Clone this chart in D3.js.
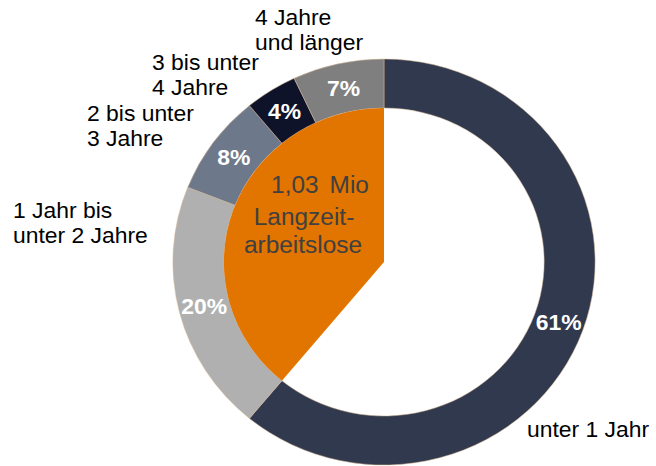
<!DOCTYPE html>
<html>
<head>
<meta charset="utf-8">
<script src="https://cdn.jsdelivr.net/npm/d3@7"></script>
<style>
  body { margin:0; background:#fff; }
  svg { display:block; font-family:"Liberation Sans", Arial, sans-serif; }
</style>
</head>
<body>
<div id="plot"></div>
<script>
// data
var categories = ['unter 1 Jahr', '1 Jahr bis unter 2 Jahre', '2 bis unter 3 Jahre', '3 bis unter 4 Jahre', '4 Jahre und länger'];
var shares = [61, 20, 8, 4, 7];
var colors = ['#30394e', '#b0b0b0', '#6e788b', '#0e1329', '#7f7f7f'];
var labelLines = [['unter 1 Jahr'], ['1 Jahr bis', 'unter 2 Jahre'], ['2 bis unter', '3 Jahre'], ['3 bis unter', '4 Jahre'], ['4 Jahre', 'und länger']];
var centerLines = ['1,03 Mio', 'Langzeit-', 'arbeitslose'];

// layout for the outside labels (left x, first baseline)
var labelPos = [[527, 437], [13, 218], [87, 121], [152, 70], [255, 25]];
var centerPos = [[320, 193], [304, 225], [303, 253]];

var W = 656, H = 466;
var cx = 384, cy = 262, sx = 1.04;
var rOut = 203, rIn = 154;

var svg = d3.select('#plot').append('svg')
  .attr('width', W).attr('height', H);

var pie = d3.pie().sort(null).value(function(d){ return d; });
var arcs = pie(shares);

var ring = d3.arc().innerRadius(rIn).outerRadius(rOut);
var full = d3.arc().innerRadius(0).outerRadius(rIn);

var g = svg.append('g')
  .attr('transform', 'translate(' + cx + ',' + cy + ') scale(' + sx + ',1)');

g.selectAll('path.slice')
  .data(arcs)
  .enter().append('path')
  .attr('class', 'slice')
  .attr('d', ring)
  .attr('fill', function(d, i){ return colors[i]; })
  .attr('stroke', '#d8b894')
  .attr('stroke-width', 0.5);

// orange wedge: all long-term groups (everything after the first slice)
g.append('path')
  .attr('d', full({startAngle: arcs[1].startAngle, endAngle: arcs[arcs.length - 1].endAngle}))
  .attr('fill', '#e27400');

// text is stretched a bit horizontally like the original
function place(x, y){ return 'translate(' + x + ',' + y + ') scale(' + sx + ',1)'; }

// percentage labels
svg.selectAll('text.pct')
  .data(arcs)
  .enter().append('text')
  .attr('class', 'pct')
  .attr('transform', function(d){
    return place(cx + sx * ring.centroid(d)[0], cy + ring.centroid(d)[1]);
  })
  .attr('dy', '0.36em')
  .attr('text-anchor', 'middle')
  .style('font-size', '22px')
  .style('font-weight', 'bold')
  .style('fill', '#fff')
  .text(function(d){ return d.data + '%'; });

// category labels
labelLines.forEach(function(lines, i){
  lines.forEach(function(t, j){
    svg.append('text')
      .attr('transform', place(labelPos[i][0], labelPos[i][1] + j * 25))
      .style('font-size', '22px')
      .style('fill', '#000')
      .text(t);
  });
});

// center text
centerLines.forEach(function(t, j){
  svg.append('text')
    .attr('transform', place(centerPos[j][0], centerPos[j][1]))
    .attr('text-anchor', 'middle')
    .style('font-size', '23.5px')
    .style('word-spacing', '4px')
    .style('fill', '#404040')
    .text(t);
});
</script>
</body>
</html>
